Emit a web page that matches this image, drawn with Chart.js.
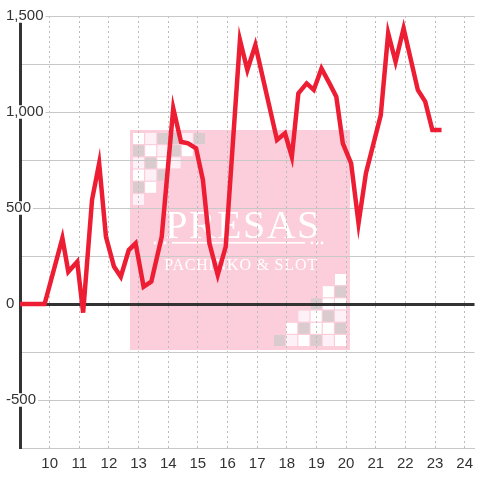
<!DOCTYPE html>
<html>
<head>
<meta charset="utf-8">
<script src="https://cdn.jsdelivr.net/npm/chart.js@4/dist/chart.umd.min.js"></script>
<style>
html,body{margin:0;padding:0;background:#fff;}
#wrap{width:480px;height:480px;}
</style>
</head>
<body>
<div id="wrap"><canvas id="c" width="480" height="480"></canvas></div>
<script>
// Time of day (hours) for each sample
const hours = [9, 9.83, 10.43, 10.63, 10.93, 11.13, 11.43, 11.67, 11.9, 12.17, 12.4, 12.67, 12.9, 13.17, 13.43, 13.78, 14.17, 14.43, 14.67, 14.94, 15.17, 15.39, 15.67, 15.94, 16.42, 16.67, 16.94, 17.67, 17.94, 18.17, 18.39, 18.67, 18.91, 19.17, 19.44, 19.67, 19.89, 20.17, 20.42, 20.67, 21.17, 21.42, 21.67, 21.94, 22.42, 22.67, 22.91, 23.22];
// Series values
const values = [0, 0, 343, 168, 220, -45, 542, 733, 350, 195, 142, 281, 316, 90, 116, 350, 1019, 845, 837, 811, 646, 316, 151, 299, 1375, 1219, 1349, 854, 889, 767, 1097, 1149, 1115, 1227, 1149, 1080, 837, 733, 420, 681, 984, 1410, 1262, 1436, 1115, 1054, 906, 906];
// Axis ticks
const xTickHours = [10, 11, 12, 13, 14, 15, 16, 17, 18, 19, 20, 21, 22, 23, 24];
const yLabelValues = [-500, 0, 500, 1000, 1500];
const logoTitle = 'PRESAS';
const logoSubtitle = 'PACHINKO & SLOT';

const FONT = '"Liberation Sans", Arial, sans-serif';

const watermark = {
  id: 'watermark',
  beforeDraw(chart) {
    const ctx = chart.ctx;
    ctx.save();
    ctx.fillStyle = 'rgb(252,206,220)';
    ctx.fillRect(130, 130, 220, 220);
    const colors = {W: '#ffffff', L: '#fdf0f7', G: '#dacbcf'};
    const tl = ['WLGGLG', 'GWLGW', 'LGWL', 'WLG', 'GW', 'L'];
    tl.forEach((row, r) => [...row].forEach((c, k) => {
      ctx.fillStyle = colors[c];
      ctx.fillRect(133 + k * 12.2, 133 + r * 12.2, 11, 11);
    }));
    const br = ['W', 'WG', 'GWW', 'LWGL', 'WGWWG', 'GLWGLW'];
    br.forEach((row, r) => {
      const n = row.length;
      [...row].forEach((c, k) => {
        const col = 6 - n + k;
        ctx.fillStyle = colors[c];
        ctx.fillRect(274 + col * 12.2, 274 + r * 12.2, 11, 11);
      });
    });
    ctx.fillStyle = '#ffffff';
    ctx.textAlign = 'center';
    ctx.textBaseline = 'alphabetic';
    ctx.font = '40px "Liberation Serif", "DejaVu Serif", serif';
    try { ctx.letterSpacing = '1.5px'; } catch (e) {}
    ctx.fillText(logoTitle, 243, 238);
    ctx.font = '16px "Liberation Serif", "DejaVu Serif", serif';
    try { ctx.letterSpacing = '0.8px'; } catch (e) {}
    ctx.fillText(logoSubtitle, 241, 270);
    try { ctx.letterSpacing = '0px'; } catch (e) {}
    ctx.fillRect(172, 242, 133, 1.6);
    [155, 160, 165, 312, 317, 322].forEach(x => {
      ctx.beginPath();
      ctx.arc(x, 243, 1.4, 0, Math.PI * 2);
      ctx.fill();
    });
    ctx.restore();
  }
};

new Chart(document.getElementById('c'), {
  type: 'line',
  data: {
    datasets: [{
      data: hours.map((h, i) => ({x: h, y: values[i]})),
      borderColor: 'rgb(237,30,52)',
      borderWidth: 4.5,
      pointRadius: 0,
      tension: 0,
      fill: false
    }]
  },
  options: {
    responsive: false,
    animation: false,
    events: [],
    layout: {padding: {left: 6, top: 16, bottom: 0, right: 0}},
    plugins: {legend: {display: false}, tooltip: {enabled: false}},
    scales: {
      x: {
        type: 'linear',
        min: 9,
        max: 9 + 460 / 30,
        afterBuildTicks: s => { s.ticks = [9, ...xTickHours].map(v => ({value: v})); },
        ticks: {
          autoSkip: false,
          maxRotation: 0,
          padding: 7,
          color: '#333',
          font: {family: FONT, size: 15},
          callback: v => xTickHours.includes(v) ? String(v) : ''
        },
        grid: {color: '#bbbbbb', drawTicks: false, lineWidth: 1},
        border: {color: '#c8c8c8', width: 1, dash: [2, 3]}
      },
      y: {
        min: -750,
        max: 1500,
        afterFit: s => { s.width = 14; },
        ticks: {
          stepSize: 250,
          mirror: true,
          crossAlign: 'near',
          padding: -14,
          color: '#333',
          font: {family: FONT, size: 15, lineHeight: 0.9},
          callback: v => yLabelValues.includes(v) ? v.toLocaleString('en-US') : '',
          showLabelBackdrop: true,
          backdropColor: c => (c.tick && yLabelValues.includes(c.tick.value)) ? '#ffffff' : 'rgba(0,0,0,0)',
          backdropPadding: {left: 2, right: 2, top: 0, bottom: 0}
        },
        grid: {
          color: c => (c.tick && c.tick.value === 0) ? '#333333' : '#c8c8c8',
          lineWidth: c => (c.tick && c.tick.value === 0) ? 3 : 1,
          drawTicks: false
        },
        border: {color: '#333333', width: 3}
      }
    }
  },
  plugins: [watermark]
});
</script>
</body>
</html>
